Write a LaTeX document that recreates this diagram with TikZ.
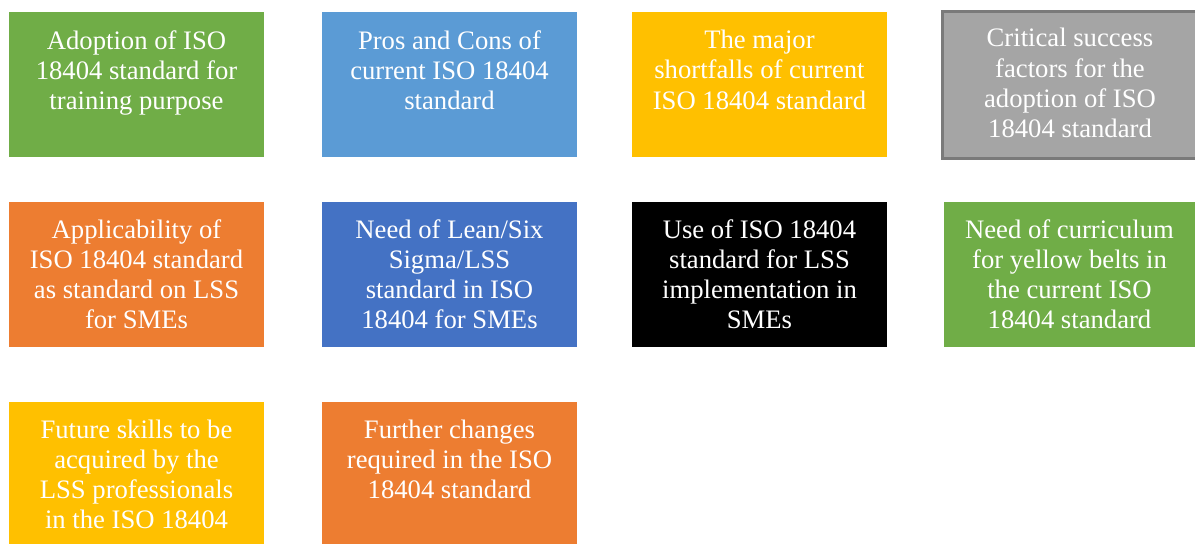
\documentclass[tikz,border=0pt]{standalone}
\usepackage{fontspec}
\setmainfont{Liberation Serif}
\usetikzlibrary{positioning}

\definecolor{leafgreen}{HTML}{70AD47}
\definecolor{skyblue}{HTML}{5B9BD5}
\definecolor{goldyellow}{HTML}{FFC000}
\definecolor{stonegray}{HTML}{A5A5A5}
\definecolor{stoneedge}{HTML}{7A7A7A}
\definecolor{rustorange}{HTML}{ED7D31}
\definecolor{deepblue}{HTML}{4472C4}

\tikzset{
  box/.style={anchor=north west, inner sep=0pt, outer sep=0pt, draw=none,
    minimum width=191.25pt, minimum height=108.75pt},
  boxtext/.style={anchor=north, inner sep=0pt, align=center, text=white,
    font=\fontsize{20}{22.6}\selectfont}
}

\begin{document}
\begin{tikzpicture}[x=0.75pt,y=0.75pt,yscale=-1,xscale=1]
\useasboundingbox (0,0) rectangle (1195,543);
%Row 1
\node[box, fill=leafgreen] (adoption) at (9,12) {};
\node[boxtext, below=13.5pt of adoption.north] (adoptiontxt) {Adoption of ISO\\18404 standard for\\training purpose};
\node[box, fill=skyblue] (proscons) at (322,12) {};
\node[boxtext, below=13.5pt of proscons.north] (proscontxt) {Pros and Cons of\\current ISO 18404\\standard};
\node[box, fill=goldyellow] (shortfalls) at (632,12) {};
\node[boxtext, below=13.5pt of shortfalls.north] (shortfallstxt) {The major\\shortfalls of current\\ISO 18404 standard};
%Shape: Rectangle with border
\node[box, fill=stonegray, draw=stoneedge, line width=2.25pt, minimum height=110.25pt] (success) at (942.5,11.5) {};
\node[boxtext, below=12.5pt of success.north] (successtxt) {Critical success\\factors for the\\adoption of ISO\\18404 standard};
%Row 2
\node[box, fill=rustorange] (applicability) at (9,202) {};
\node[boxtext, below=13pt of applicability.north] (applicabilitytxt) {Applicability of\\ISO 18404 standard\\as standard on LSS\\for SMEs};
\node[box, fill=deepblue] (needlss) at (322,202) {};
\node[boxtext, below=13pt of needlss.north] (needlsstxt) {Need of Lean/Six\\Sigma/LSS\\standard in ISO\\18404 for SMEs};
\node[box, fill=black] (useiso) at (632,202) {};
\node[boxtext, below=13pt of useiso.north] (useisotxt) {Use of ISO 18404\\standard for LSS\\implementation in\\SMEs};
\node[box, fill=leafgreen, minimum width=188.25pt] (curriculum) at (944,202) {};
\node[boxtext, below=13pt of curriculum.north] (curriculumtxt) {Need of curriculum\\for yellow belts in\\the current ISO\\18404 standard};
%Row 3
\node[box, fill=goldyellow] (futureskills) at (9,402) {};
\node[boxtext, below=13pt of futureskills.north] (futureskillstxt) {Future skills to be\\acquired by the\\LSS professionals\\in the ISO 18404};
\node[box, fill=rustorange] (changes) at (322,402) {};
\node[boxtext, below=13pt of changes.north] (changestxt) {Further changes\\required in the ISO\\18404 standard};
\end{tikzpicture}
\end{document}
